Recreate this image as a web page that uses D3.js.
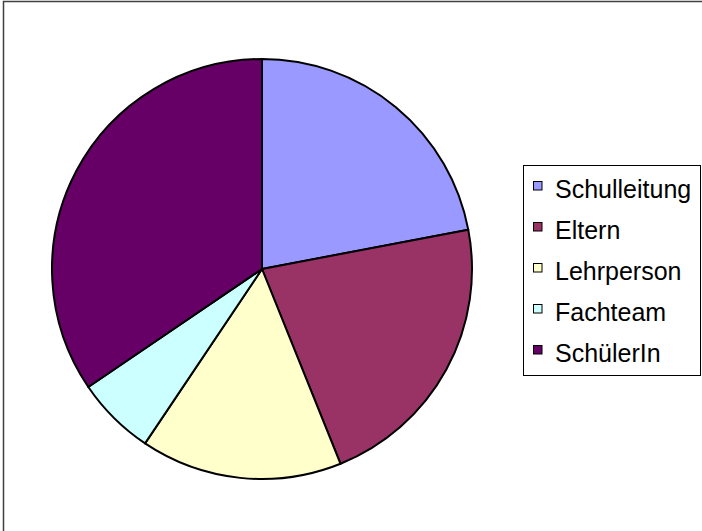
<!DOCTYPE html>
<html>
<head>
<meta charset="utf-8">
<script src="https://cdn.jsdelivr.net/npm/d3@7"></script>
<style>
  body { margin: 0; background: #fff; }
  svg { display: block; }
</style>
</head>
<body>
<script>
var categories = ["Schulleitung", "Eltern", "Lehrperson", "Fachteam", "SchülerIn"];
var values = [22, 21.9, 15.5, 6.1, 34.5];
var colors = ["#9999ff", "#993366", "#ffffcc", "#ccffff", "#660066"];

var width = 702,
    height = 531;

var svg = d3.select("body").append("svg")
    .attr("width", width)
    .attr("height", height);

// chart area frame (right and bottom are cut off in the original)
svg.append("rect")
    .attr("x", 3.5)
    .attr("y", 1.5)
    .attr("width", width + 10)
    .attr("height", height + 10)
    .attr("fill", "#fff")
    .attr("stroke", "#404040")
    .attr("stroke-width", 1.5);

var radius = 210;

var pie = d3.pie().sort(null).value(function(d) { return d.v; });
var arc = d3.arc().innerRadius(0).outerRadius(radius);

var data = categories.map(function(c, i) { return {name: c, v: values[i]}; });

var g = svg.append("g")
    .attr("transform", "translate(262,269)");

g.selectAll("path")
  .data(pie(data))
  .enter().append("path")
    .attr("d", arc)
    .attr("fill", function(d, i) { return colors[i]; })
    .attr("stroke", "#000")
    .attr("stroke-width", 2)
    .attr("stroke-linejoin", "round");

// legend
var legend = svg.append("g");

legend.append("rect")
    .attr("x", 523.5)
    .attr("y", 165.5)
    .attr("width", 177)
    .attr("height", 210)
    .attr("fill", "#fff")
    .attr("stroke", "#000")
    .attr("stroke-width", 1);

var item = legend.selectAll("g.item")
  .data(categories)
  .enter().append("g")
    .attr("class", "item")
    .attr("transform", function(d, i) { return "translate(0," + (198 + i * 41) + ")"; });

item.append("rect")
    .attr("x", 533.5)
    .attr("y", -16.5)
    .attr("width", 8.5)
    .attr("height", 8.5)
    .attr("fill", function(d, i) { return colors[i]; })
    .attr("stroke", "#000")
    .attr("stroke-width", 1);

item.append("text")
    .attr("x", 555)
    .attr("y", 0)
    .attr("font-family", "Liberation Sans, Arial, sans-serif")
    .attr("font-size", 25)
    .attr("fill", "#000")
    .text(function(d) { return d; });
</script>
</body>
</html>
